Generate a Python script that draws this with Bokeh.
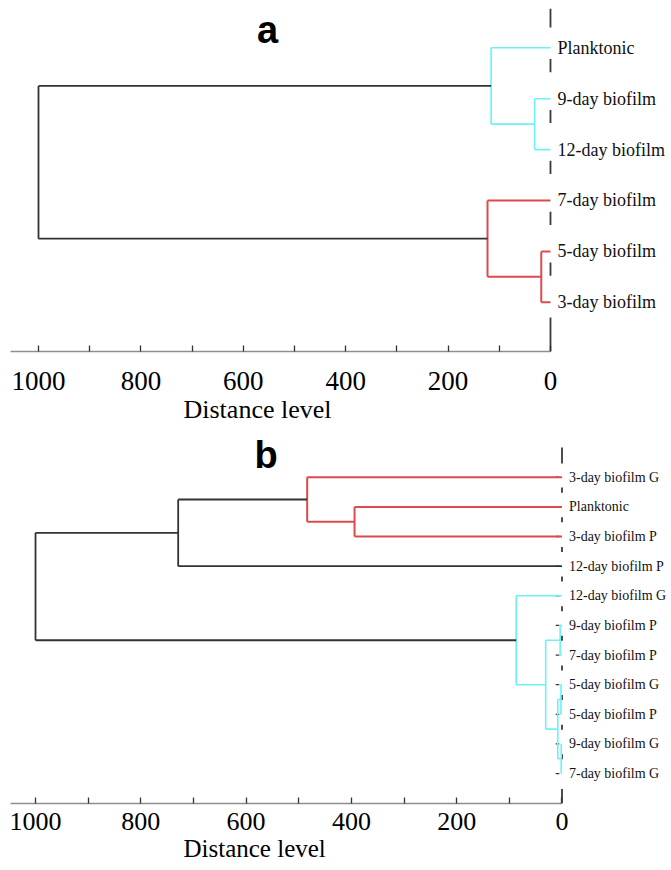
from bokeh.plotting import figure
from bokeh.models import Range1d, LinearAxis, FixedTicker, Title, ColumnDataSource
from bokeh.layouts import column
from bokeh.embed import file_html
from bokeh.resources import INLINE
from bokeh.core.properties import value

# ---------------- data ----------------
# Panel a: leaves (top to bottom) and merges (scipy-like ids: leaves 0..n-1, merges n..)
leaves_a = ["Planktonic", "9-day biofilm", "12-day biofilm",
            "7-day biofilm", "5-day biofilm", "3-day biofilm"]
merge_left_a = [1, 4, 0, 3, 8]
merge_right_a = [2, 5, 6, 7, 9]
merge_height_a = [31, 18, 116, 123, 1000]
merge_group_a = ["cyan", "red", "cyan", "red", "root"]

# Panel b
leaves_b = ["3-day biofilm G", "Planktonic", "3-day biofilm P", "12-day biofilm P",
            "12-day biofilm G", "9-day biofilm P", "7-day biofilm P", "5-day biofilm G",
            "5-day biofilm P", "9-day biofilm G", "7-day biofilm G"]
merge_left_b = [1, 0, 12, 5, 7, 9, 15, 14, 4, 13]
merge_right_b = [2, 11, 3, 6, 8, 10, 16, 17, 18, 19]
merge_height_b = [394, 484, 729, 3.5, 2, 1.5, 8, 31, 87, 1000]
merge_group_b = ["red", "red", "root", "cyan", "cyan", "cyan", "cyan", "cyan", "cyan", "root"]

tick_values = [0, 100, 200, 300, 400, 500, 600, 700, 800, 900, 1000]
tick_labels = ["0", "", "200", "", "400", "", "600", "", "800", "", "1000"]
axis_title = "Distance level"

# ---------------- style ----------------
GROUP_COLOR = {"cyan": "#6cf1f6", "red": "#dc4a4e", "root": "#333333"}
GROUP_WIDTH = {"cyan": 1.6, "red": 2.0, "root": 1.8}


def dendro_segments(leaves, L, R, H, G):
    n = len(leaves)
    ypos = list(range(n))
    xpos = [0.0] * n
    x0, y0, x1, y1, col, wid = [], [], [], [], [], []
    for k in range(len(L)):
        a, b, h, g = L[k], R[k], H[k], G[k]
        ya, yb = ypos[a], ypos[b]
        c, w = GROUP_COLOR[g], GROUP_WIDTH[g]
        for (sx0, sy0, sx1, sy1) in [(h, ya, h, yb), (h, ya, xpos[a], ya), (h, yb, xpos[b], yb)]:
            x0.append(sx0); y0.append(sy0); x1.append(sx1); y1.append(sy1)
            col.append(c); wid.append(w)
        ypos.append((ya + yb) / 2.0)
        xpos.append(h)
    return ColumnDataSource(dict(x0=x0, y0=y0, x1=x1, y1=y1, color=col, width=wid))


def make_panel(leaves, L, R, H, G, *, height, xr, yr, border_top, border_bottom,
               leaf_size, dash_top, dash_mid, dash_bottom, panel_letter, letter_pos,
               tick_size, tick_standoff, title_size, title_offset, title_standoff,
               leaf_ticks):
    p = figure(width=671, height=height, x_range=Range1d(*xr), y_range=Range1d(*yr),
               output_backend="svg", toolbar_location=None,
               x_axis_type=None, y_axis_type=None,
               min_border_left=10, min_border_right=3,
               min_border_top=border_top, min_border_bottom=border_bottom)
    p.outline_line_color = None
    p.background_fill_color = "white"
    p.border_fill_color = "white"

    n = len(leaves)
    # dashed vertical reference line at distance 0
    dy0 = [dash_top[0]] + [k + dash_mid[0] for k in range(n - 1)] + [dash_bottom[0]]
    dy1 = [dash_top[1]] + [k + dash_mid[1] for k in range(n - 1)] + [dash_bottom[1]]
    p.segment(x0=[0] * len(dy0), y0=dy0, x1=[0] * len(dy0), y1=dy1,
              line_color="#3a3a3a", line_width=1.8)
    if leaf_ticks:
        p.segment(x0=[5] * n, y0=list(range(n)), x1=[12] * n, y1=list(range(n)),
                  line_color="#3a3a3a", line_width=1.3)

    src = dendro_segments(leaves, L, R, H, G)
    p.segment(x0="x0", y0="y0", x1="x1", y1="y1", line_color="color",
              line_width="width", source=src)

    p.text(x=[0] * n, y=list(range(n)), text=leaves, x_offset=7,
           text_align="left", text_baseline="middle",
           text_font=value("Liberation Serif"), text_font_size=value(leaf_size),
           text_color="#111111")

    p.text(x=[letter_pos[0]], y=[letter_pos[1]], text=[panel_letter],
           text_align="center", text_baseline="alphabetic",
           text_font=value("Liberation Sans"), text_font_size=value("38px"),
           text_font_style=value("bold"), text_color="black")

    ax = LinearAxis(ticker=FixedTicker(ticks=tick_values), bounds=(0, xr[0]),
                    major_label_overrides={v: s for v, s in zip(tick_values, tick_labels)})
    ax.axis_line_color = "#8e8e8e"
    ax.axis_line_width = 1.5
    ax.major_tick_line_color = "#333333"
    ax.major_tick_line_width = 1.3
    ax.major_tick_in = 6
    ax.major_tick_out = 0
    ax.minor_tick_line_color = None
    ax.major_label_text_font = "Liberation Serif"
    ax.major_label_text_font_size = tick_size
    ax.major_label_text_color = "black"
    ax.major_label_standoff = tick_standoff
    p.add_layout(ax, "below")

    t = Title(text=axis_title, align="left", offset=title_offset,
              text_font="Liberation Serif", text_font_size=title_size,
              text_font_style="normal", text_color="black", standoff=title_standoff)
    p.add_layout(t, "below")
    return p


pa = make_panel(leaves_a, merge_left_a, merge_right_a, merge_height_a, merge_group_a,
                height=431, xr=(1054.7, -230.5), yr=(5.967, -0.772),
                border_top=8, border_bottom=80, leaf_size="18px",
                dash_top=(-0.772, -0.40), dash_mid=(0.22, 0.48), dash_bottom=(5.30, 5.967),
                panel_letter="a", letter_pos=(552.7, -0.34),
                tick_size="27px", tick_standoff=20, title_size="26px", title_offset=173,
                title_standoff=1, leaf_ticks=False)

pb = make_panel(leaves_b, merge_left_b, merge_right_b, merge_height_b, merge_group_b,
                height=438, xr=(1047.5, -202.3), yr=(11.01, -1.544),
                border_top=0, border_bottom=66, leaf_size="14px",
                dash_top=(-1.0, -0.46), dash_mid=(0.35, 0.52), dash_bottom=(10.52, 11.01),
                panel_letter="b", letter_pos=(562.0, -0.74),
                tick_size="26px", tick_standoff=9, title_size="25px", title_offset=173,
                title_standoff=0, leaf_ticks=True)

layout = column(pa, pb, spacing=0)
open("out.html", "w").write(file_html(layout, INLINE))
